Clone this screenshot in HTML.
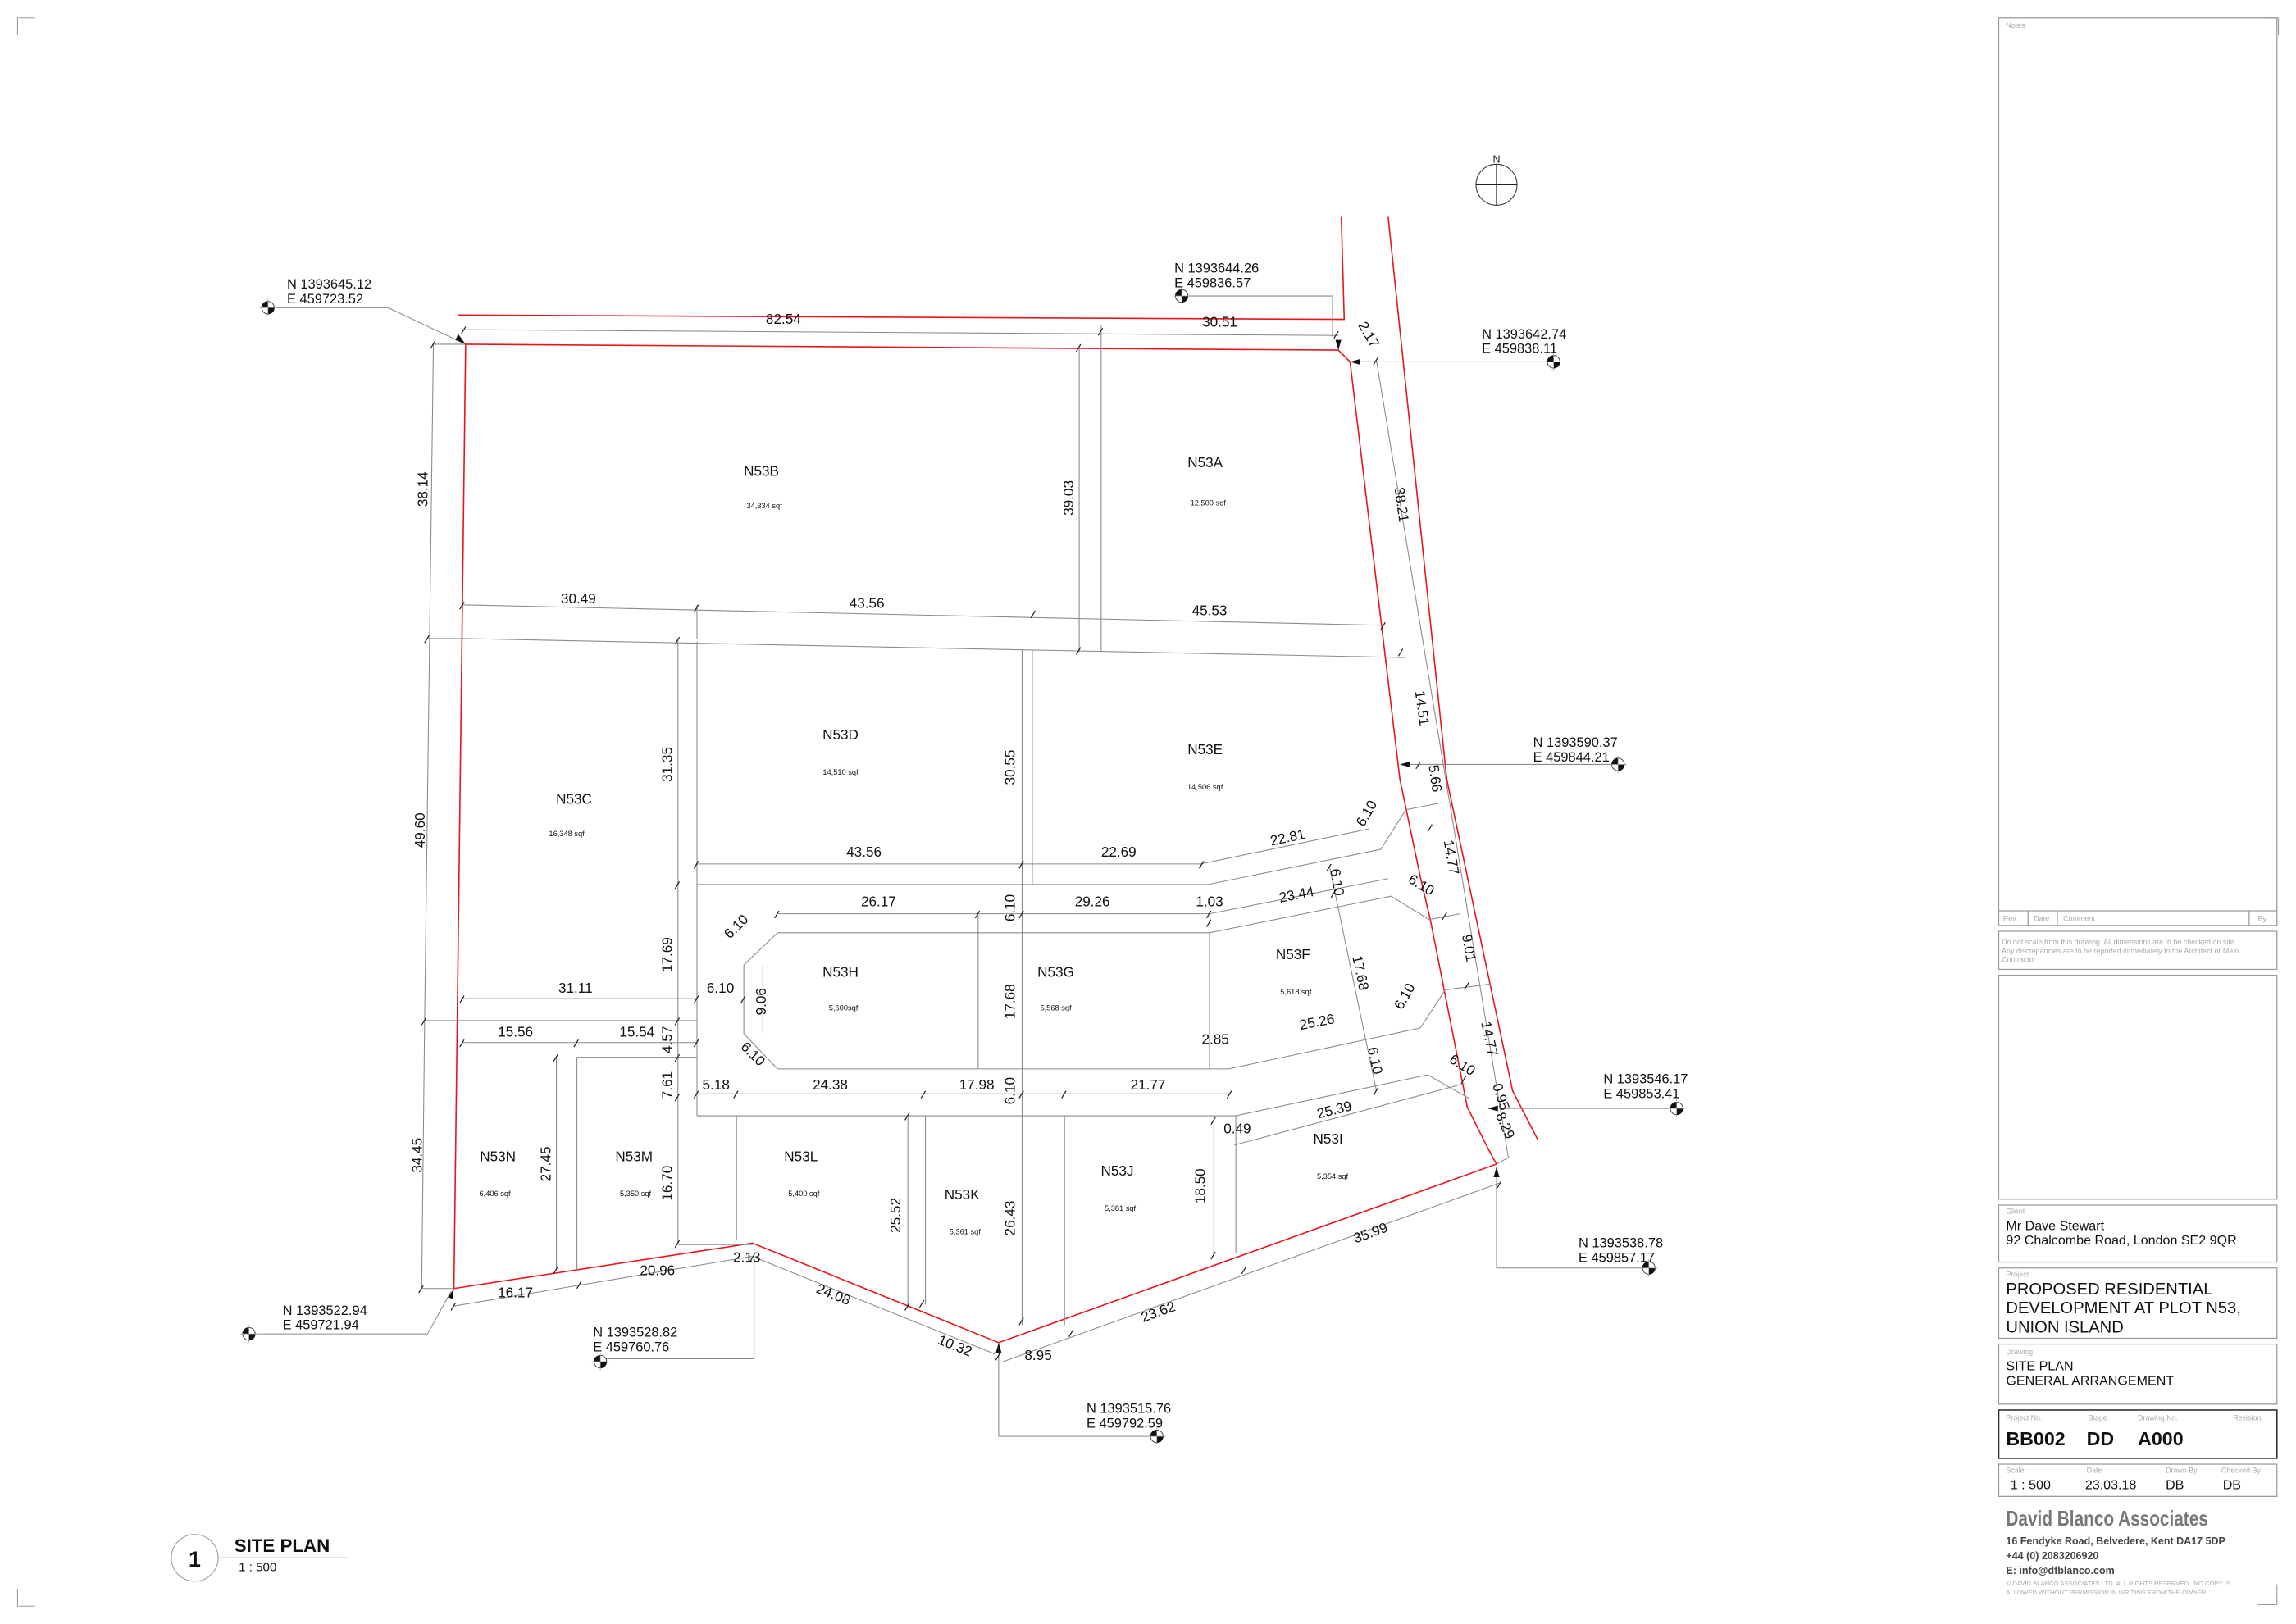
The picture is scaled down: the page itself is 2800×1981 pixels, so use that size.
<!DOCTYPE html>
<html><head><meta charset="utf-8"><style>
html,body{margin:0;padding:0;background:#fff;}
svg{display:block}
text{font-family:"Liberation Sans",sans-serif;fill:#111}
.d{font-size:9.6px}
.l{font-size:9.6px}
.s{font-size:5.2px;fill:#555}
.c{font-size:9.2px}
.g{stroke:#8a8a8a;stroke-width:.6;fill:none}
.r{stroke:#e8161b;stroke-width:.9;fill:none}
.k{stroke:#222;stroke-width:.7}
.tb{stroke:#999;stroke-width:.7;fill:none}
.tl{font-size:5px;fill:#aaa}
</style></head><body>
<svg width="2800" height="1981" viewBox="0 0 1568 1109" xmlns="http://www.w3.org/2000/svg">
<defs>
<g id="m"><circle r="4.3" fill="#fff" stroke="#333" stroke-width=".5"/><path d="M0 0 L-4.3 0 A4.3 4.3 0 0 1 0 -4.3Z M0 0 L4.3 0 A4.3 4.3 0 0 1 0 4.3Z" fill="#111"/><line x1="-6" y1="0" x2="6" y2="0" stroke="#999" stroke-width=".4"/><line x1="0" y1="-6" x2="0" y2="6" stroke="#999" stroke-width=".4"/></g>
</defs>
<!-- corner marks -->
<path d="M12 24V12H24 M1556 12H1544 M1556 12V24 M12 1085V1097H24" stroke="#999" stroke-width=".6" fill="none"/>

<!-- north arrow -->
<circle cx="1022" cy="126" r="14" fill="none" stroke="#333" stroke-width=".6"/>
<line x1="1022" y1="112" x2="1022" y2="140" class="k"/><line x1="1008" y1="126" x2="1036" y2="126" class="k"/>
<text x="1022" y="111" font-size="7" text-anchor="middle">N</text>

<!-- red boundaries -->
<polyline class="r" points="313,215 918,218 916,148"/>
<polyline class="r" points="948,148 988,532 1033,745 1050,778"/>
<polygon class="r" points="318,235 914,239 922,247 956,532 970,599 977,629 1002,756 1016,784 1022,795 682,917 514,849 310,880"/>

<!-- gray internal lines -->
<g class="g">
<!-- top dim -->
<line x1="318" y1="225" x2="914" y2="229"/>
<!-- left dims -->
<polyline points="296,235 290,697 288,880"/>
<line x1="296" y1="235" x2="318" y2="235"/><line x1="288" y1="880" x2="310" y2="880"/>
<line x1="290" y1="697" x2="316" y2="697"/>
<line x1="292" y1="436" x2="316" y2="436"/>
<!-- A/B -->
<line x1="752" y1="222" x2="752" y2="445"/>
<line x1="737" y1="237" x2="737" y2="445"/>
<!-- roads horizontal -->
<line x1="316" y1="413" x2="945" y2="427"/>
<line x1="316" y1="436" x2="960" y2="449"/>
<line x1="476" y1="413" x2="476" y2="436"/>
<!-- right dim line -->
<polyline points="940,246 1030,790"/>
<line x1="922" y1="247" x2="940" y2="247"/>
<!-- D/E block -->
<line x1="476" y1="438" x2="476" y2="762"/>
<line x1="463" y1="437" x2="463" y2="850"/>
<line x1="705" y1="444" x2="705" y2="604"/>
<line x1="698" y1="444" x2="698" y2="905"/>
<polyline points="476,604 825,604 943,580 960,553"/>
<line x1="476" y1="590" x2="820" y2="590"/>
<polyline points="820,590 935,566"/>
<line x1="960" y1="553" x2="985" y2="548"/>
<!-- H/G/F block -->
<polyline points="531,637 826,637 950,612 976,628"/>
<polyline points="531,637 508,659 508,706 531,730 839,730 970,702 987,676"/>
<line x1="531" y1="624" x2="826" y2="624"/>
<polyline points="826,624 948,600"/>
<line x1="668" y1="624" x2="668" y2="730"/>
<line x1="826" y1="637" x2="826" y2="730"/>
<line x1="521" y1="659" x2="521" y2="706"/>
<line x1="908" y1="592" x2="940" y2="745"/>
<line x1="976" y1="628" x2="997" y2="624"/>
<line x1="987" y1="676" x2="1018" y2="672"/>
<!-- left small lots -->
<line x1="316" y1="682" x2="476" y2="682"/>
<line x1="316" y1="697" x2="476" y2="697"/>
<line x1="316" y1="712" x2="476" y2="712"/>
<line x1="394" y1="722" x2="476" y2="722"/>
<line x1="394" y1="722" x2="394" y2="868"/>
<line x1="380" y1="722" x2="380" y2="868"/>
<line x1="463" y1="850" x2="514" y2="850"/>
<!-- bottom block -->
<line x1="476" y1="747" x2="840" y2="747"/>
<polyline points="476,762 844,762 975,734 1003,750"/>
<line x1="503" y1="762" x2="503" y2="847"/>
<line x1="632" y1="762" x2="632" y2="891"/>
<line x1="620" y1="762" x2="620" y2="893"/>
<line x1="727" y1="762" x2="727" y2="905"/>
<line x1="844" y1="762" x2="844" y2="856"/>
<line x1="829" y1="765" x2="829" y2="858"/>
<line x1="843" y1="782" x2="1000" y2="740"/>
<!-- bottom dims -->
<line x1="310" y1="892" x2="514" y2="858"/>
<line x1="516" y1="859" x2="680" y2="925"/>
<line x1="685" y1="930" x2="1024" y2="808"/>
<line x1="1022" y1="795" x2="1031" y2="790"/>
<!-- leaders -->
<polyline points="188,210 265,210 316,234"/>
<polyline points="812,202 910,202 910,230"/>
<line x1="924" y1="247" x2="1066" y2="247"/>
<line x1="958" y1="522" x2="1110" y2="522"/>
<line x1="1024" y1="757" x2="1150" y2="757"/>
<polyline points="1022,797 1022,866 1128,866"/>
<polyline points="175,911 292,911 308,882"/>
<polyline points="515,852 515,928 410,928"/>
<polyline points="682,918 682,981 790,981"/>
</g>

<!-- ticks -->
<g stroke="#222" stroke-width=".7">
<path d="M315 228l3-5 M750 229l3-5 M911 231l3-5 M294 238l3-5 M290 439l3-5 M288 700l3-5 M286 883l3-5 M735 240l3-5 M735 447l3-5 M314 416l3-5 M474 418l3-5 M704 422l3-5 M943 430l3-5 M938 249l3-5 M955 448l3-5 M967 525l3-5 M461 440l3-5 M461 607l3-5 M461 700l3-5 M461 725l3-5 M461 752l3-5 M461 852l3-5 M474 593l3-5 M696 593l3-5 M819 593l3-5 M529 627l3-5 M666 627l3-5 M696 627l3-5 M824 627l3-5 M824 633l3-5 M314 685l3-5 M474 685l3-5 M506 685l3-5 M314 715l3-5 M392 715l3-5 M474 715l3-5 M474 750l3-5 M501 750l3-5 M629 750l3-5 M696 750l3-5 M725 750l3-5 M838 750l3-5 M696 905l3-5 M378 725l3-5 M378 870l3-5 M618 765l3-5 M618 895l3-5 M827 768l3-5 M827 860l3-5 M308 895l3-5 M394 880l3-5 M512 862l3-5 M628 893l3-5 M680 929l3-5 M730 913l3-5 M848 870l3-5 M1022 812l3-5 M906 595l3-5 M909 613l3-5 M938 748l3-5 M985 628l3-5 M1000 676l3-5 M998 740l3-5 M975 568l3-5"/>
</g>
<!-- arrowheads -->
<g fill="#111">
<path d="M318 235l-7-3 2-4z"/><path d="M922 247l7-2 0 4z"/><path d="M956 522l7-2 0 4z"/><path d="M1016 757l7-2 0 4z"/><path d="M1022 797l-2 7 4 0z"/><path d="M682 917l-2 7 4 0z"/><path d="M310 880l-4 6 3 1z"/><path d="M914 239l-2-7 4 0z"/>
</g>

<!-- markers -->
<use href="#m" x="183" y="210"/>
<use href="#m" x="807" y="202"/>
<use href="#m" x="1061" y="247"/>
<use href="#m" x="1105" y="522"/>
<use href="#m" x="1145" y="757"/>
<use href="#m" x="1126" y="866"/>
<use href="#m" x="170" y="911"/>
<use href="#m" x="410" y="930"/>
<use href="#m" x="790" y="981"/>

<!-- coordinates -->
<g class="c">
<text x="196" y="197">N 1393645.12</text><text x="196" y="207">E 459723.52</text>
<text x="802" y="186">N 1393644.26</text><text x="802" y="196">E 459836.57</text>
<text x="1012" y="231">N 1393642.74</text><text x="1012" y="241">E 459838.11</text>
<text x="1047" y="510">N 1393590.37</text><text x="1047" y="520">E 459844.21</text>
<text x="1095" y="740">N 1393546.17</text><text x="1095" y="750">E 459853.41</text>
<text x="1078" y="852">N 1393538.78</text><text x="1078" y="862">E 459857.17</text>
<text x="193" y="898">N 1393522.94</text><text x="193" y="908">E 459721.94</text>
<text x="405" y="913">N 1393528.82</text><text x="405" y="923">E 459760.76</text>
<text x="742" y="965">N 1393515.76</text><text x="742" y="975">E 459792.59</text>
</g>

<!-- parcel labels -->
<g class="l" text-anchor="middle">
<text x="520" y="325">N53B</text><text x="823" y="319">N53A</text>
<text x="574" y="505">N53D</text><text x="823" y="515">N53E</text>
<text x="392" y="549">N53C</text><text x="574" y="667">N53H</text>
<text x="721" y="667">N53G</text><text x="883" y="655">N53F</text>
<text x="340" y="793">N53N</text><text x="433" y="793">N53M</text>
<text x="547" y="793">N53L</text><text x="657" y="819">N53K</text>
<text x="763" y="803">N53J</text><text x="907" y="781">N53I</text>
</g>
<g class="s" text-anchor="middle">
<text x="522" y="347">34,334 sqf</text><text x="825" y="345">12,500 sqf</text>
<text x="574" y="529">14,510 sqf</text><text x="823" y="539">14,506 sqf</text>
<text x="387" y="571">16,348 sqf</text><text x="576" y="690">5,600sqf</text>
<text x="721" y="690">5,568 sqf</text><text x="885" y="679">5,618 sqf</text>
<text x="338" y="817">6,406 sqf</text><text x="434" y="817">5,350 sqf</text>
<text x="549" y="817">5,400 sqf</text><text x="659" y="843">5,361 sqf</text>
<text x="765" y="827">5,381 sqf</text><text x="910" y="805">5,354 sqf</text>
</g>

<!-- dimension texts -->
<g class="d" text-anchor="middle">
<text x="535" y="221">82.54</text><text x="833" y="223">30.51</text>
<text x="395" y="412">30.49</text><text x="592" y="415">43.56</text><text x="826" y="420">45.53</text>
<text x="590" y="585">43.56</text><text x="764" y="585">22.69</text>
<text x="600" y="619">26.17</text><text x="746" y="619">29.26</text><text x="826" y="619">1.03</text>
<text x="393" y="678">31.11</text><text x="492" y="678">6.10</text>
<text x="352" y="708">15.56</text><text x="435" y="708">15.54</text><text x="830" y="713">2.85</text>
<text x="489" y="744">5.18</text><text x="567" y="744">24.38</text><text x="667" y="744">17.98</text><text x="784" y="744">21.77</text>
<text x="845" y="774">0.49</text><text x="510" y="862">2.13</text>
<text x="352" y="886">16.17</text><text x="449" y="871">20.96</text><text x="709" y="929">8.95</text>
<text transform="translate(292,334) rotate(-90)">38.14</text>
<text transform="translate(733,340) rotate(-90)">39.03</text>
<text transform="translate(459,522) rotate(-90)">31.35</text>
<text transform="translate(693,524) rotate(-90)">30.55</text>
<text transform="translate(290,567) rotate(-90)">49.60</text>
<text transform="translate(693,620) rotate(-90)">6.10</text>
<text transform="translate(459,652) rotate(-90)">17.69</text>
<text transform="translate(523,684) rotate(-90)">9.06</text>
<text transform="translate(693,684) rotate(-90)">17.68</text>
<text transform="translate(459,710) rotate(-90)">4.57</text>
<text transform="translate(459,741) rotate(-90)">7.61</text>
<text transform="translate(693,745) rotate(-90)">6.10</text>
<text transform="translate(288,789) rotate(-90)">34.45</text>
<text transform="translate(376,795) rotate(-90)">27.45</text>
<text transform="translate(459,808) rotate(-90)">16.70</text>
<text transform="translate(615,830) rotate(-90)">25.52</text>
<text transform="translate(693,832) rotate(-90)">26.43</text>
<text transform="translate(823,810) rotate(-90)">18.50</text>
<text transform="translate(932,230) rotate(60)">2.17</text>
<text transform="translate(954,345) rotate(82)">38.21</text>
<text transform="translate(968,484) rotate(82)">14.51</text>
<text transform="translate(977,532) rotate(82)">5.66</text>
<text transform="translate(988,586) rotate(80)">14.77</text>
<text transform="translate(1000,648) rotate(80)">9.01</text>
<text transform="translate(1014,710) rotate(78)">14.77</text>
<text transform="translate(1022,750) rotate(72)">0.95</text>
<text transform="translate(1025,770) rotate(66)">8.29</text>
<text transform="translate(910,603) rotate(80)">6.10</text>
<text transform="translate(926,665) rotate(78)">17.68</text>
<text transform="translate(936,725) rotate(78)">6.10</text>
<text transform="translate(936,557) rotate(-60)">6.10</text>
<text transform="translate(962,682) rotate(-60)">6.10</text>
<text transform="translate(969,607) rotate(32)">6.10</text>
<text transform="translate(997,730) rotate(32)">6.10</text>
<text transform="translate(505,635) rotate(-45)">6.10</text>
<text transform="translate(512,722) rotate(45)">6.10</text>
<text transform="translate(880,575) rotate(-12)">22.81</text>
<text transform="translate(886,614) rotate(-11)">23.44</text>
<text transform="translate(900,701) rotate(-11)">25.26</text>
<text transform="translate(912,761) rotate(-14)">25.39</text>
<text transform="translate(937,845) rotate(-20)">35.99</text>
<text transform="translate(792,899) rotate(-20)">23.62</text>
<text transform="translate(568,887) rotate(22)">24.08</text>
<text transform="translate(651,922) rotate(22)">10.32</text>
</g>

<!-- site plan title -->
<circle cx="133" cy="1064" r="16" fill="none" stroke="#999" stroke-width=".6"/>
<text x="133" y="1070" font-size="15" text-anchor="middle" font-weight="bold">1</text>
<text x="160" y="1060" font-size="12.5" font-weight="bold">SITE PLAN</text>
<line x1="149" y1="1064" x2="238" y2="1064" stroke="#999" stroke-width=".6"/>
<text x="163" y="1073" font-size="8.5">1 : 500</text>

<!-- title block -->
<rect class="tb" x="1365" y="12" width="190" height="620"/>
<text x="1370" y="19" class="tl">Notes</text>
<line class="tb" x1="1365" y1="622" x2="1555" y2="622"/>
<line class="tb" x1="1385" y1="622" x2="1385" y2="632"/>
<line class="tb" x1="1405" y1="622" x2="1405" y2="632"/>
<line class="tb" x1="1536" y1="622" x2="1536" y2="632"/>
<text x="1368" y="629" class="tl">Rev.</text><text x="1389" y="629" class="tl">Date</text><text x="1409" y="629" class="tl">Comment</text><text x="1542" y="629" class="tl">By</text>
<rect class="tb" x="1365" y="636" width="190" height="26"/>
<text x="1367" y="645" class="tl" font-size="4.6">Do not scale from this drawing. All dimensions are to be checked on site.</text>
<text x="1367" y="651" class="tl" font-size="4.6">Any discrepancies are to be reported immediately to the Architect or  Main</text>
<text x="1367" y="657" class="tl" font-size="4.6">Contractor</text>
<rect class="tb" x="1365" y="666" width="190" height="153"/>
<rect class="tb" x="1365" y="823" width="190" height="39"/>
<text x="1370" y="829" class="tl">Client</text>
<text x="1370" y="840" font-size="9">Mr Dave Stewart</text>
<text x="1370" y="850" font-size="9">92 Chalcombe Road, London SE2 9QR</text>
<rect class="tb" x="1365" y="866" width="190" height="48"/>
<text x="1370" y="872" class="tl">Project</text>
<text x="1370" y="884" font-size="11.3">PROPOSED RESIDENTIAL</text>
<text x="1370" y="897" font-size="11.3">DEVELOPMENT AT PLOT N53,</text>
<text x="1370" y="910" font-size="11.3">UNION ISLAND</text>
<rect class="tb" x="1365" y="918" width="190" height="41"/>
<text x="1370" y="925" class="tl">Drawing</text>
<text x="1370" y="936" font-size="9">SITE PLAN</text>
<text x="1370" y="946" font-size="9">GENERAL ARRANGEMENT</text>
<rect x="1365" y="963" width="190" height="33" fill="none" stroke="#333" stroke-width=".9"/>
<text x="1370" y="970" class="tl">Project No.</text><text x="1426" y="970" class="tl">Stage</text><text x="1460" y="970" class="tl">Drawing No.</text><text x="1525" y="970" class="tl">Revision</text>
<text x="1370" y="987" font-size="13" font-weight="bold">BB002</text>
<text x="1425" y="987" font-size="13" font-weight="bold">DD</text>
<text x="1460" y="987" font-size="13" font-weight="bold">A000</text>
<rect class="tb" x="1365" y="1000" width="190" height="22"/>
<text x="1370" y="1006" class="tl">Scale</text><text x="1425" y="1006" class="tl">Date</text><text x="1479" y="1006" class="tl">Drawn By</text><text x="1517" y="1006" class="tl">Checked By</text>
<text x="1373" y="1017" font-size="9">1 : 500</text><text x="1424" y="1017" font-size="9">23.03.18</text><text x="1479" y="1017" font-size="9">DB</text><text x="1518" y="1017" font-size="9">DB</text>
<text x="1370" y="1042" font-size="14.5" font-weight="bold" fill="#777" style="fill:#777" textLength="138" lengthAdjust="spacingAndGlyphs">David Blanco Associates</text>
<text x="1370" y="1055" font-size="7" font-weight="bold" style="fill:#444">16 Fendyke Road, Belvedere, Kent DA17 5DP</text>
<text x="1370" y="1065" font-size="7" font-weight="bold" style="fill:#444">+44 (0) 2083206920</text>
<text x="1370" y="1075" font-size="7" font-weight="bold" style="fill:#444">E: info@dfblanco.com</text>
<text x="1370" y="1083" font-size="4.3" style="fill:#aaa">© DAVID BLANCO ASSOCIATES LTD. ALL RIGHTS RESERVED . NO COPY IS</text>
<text x="1370" y="1089" font-size="4.3" style="fill:#aaa">ALLOWED WITHOUT PERMISSION IN WRITING FROM THE OWNER</text>
<path d="M1555 1082V1096H1542" stroke="#999" stroke-width=".6" fill="none"/>
</svg>
</body></html>
